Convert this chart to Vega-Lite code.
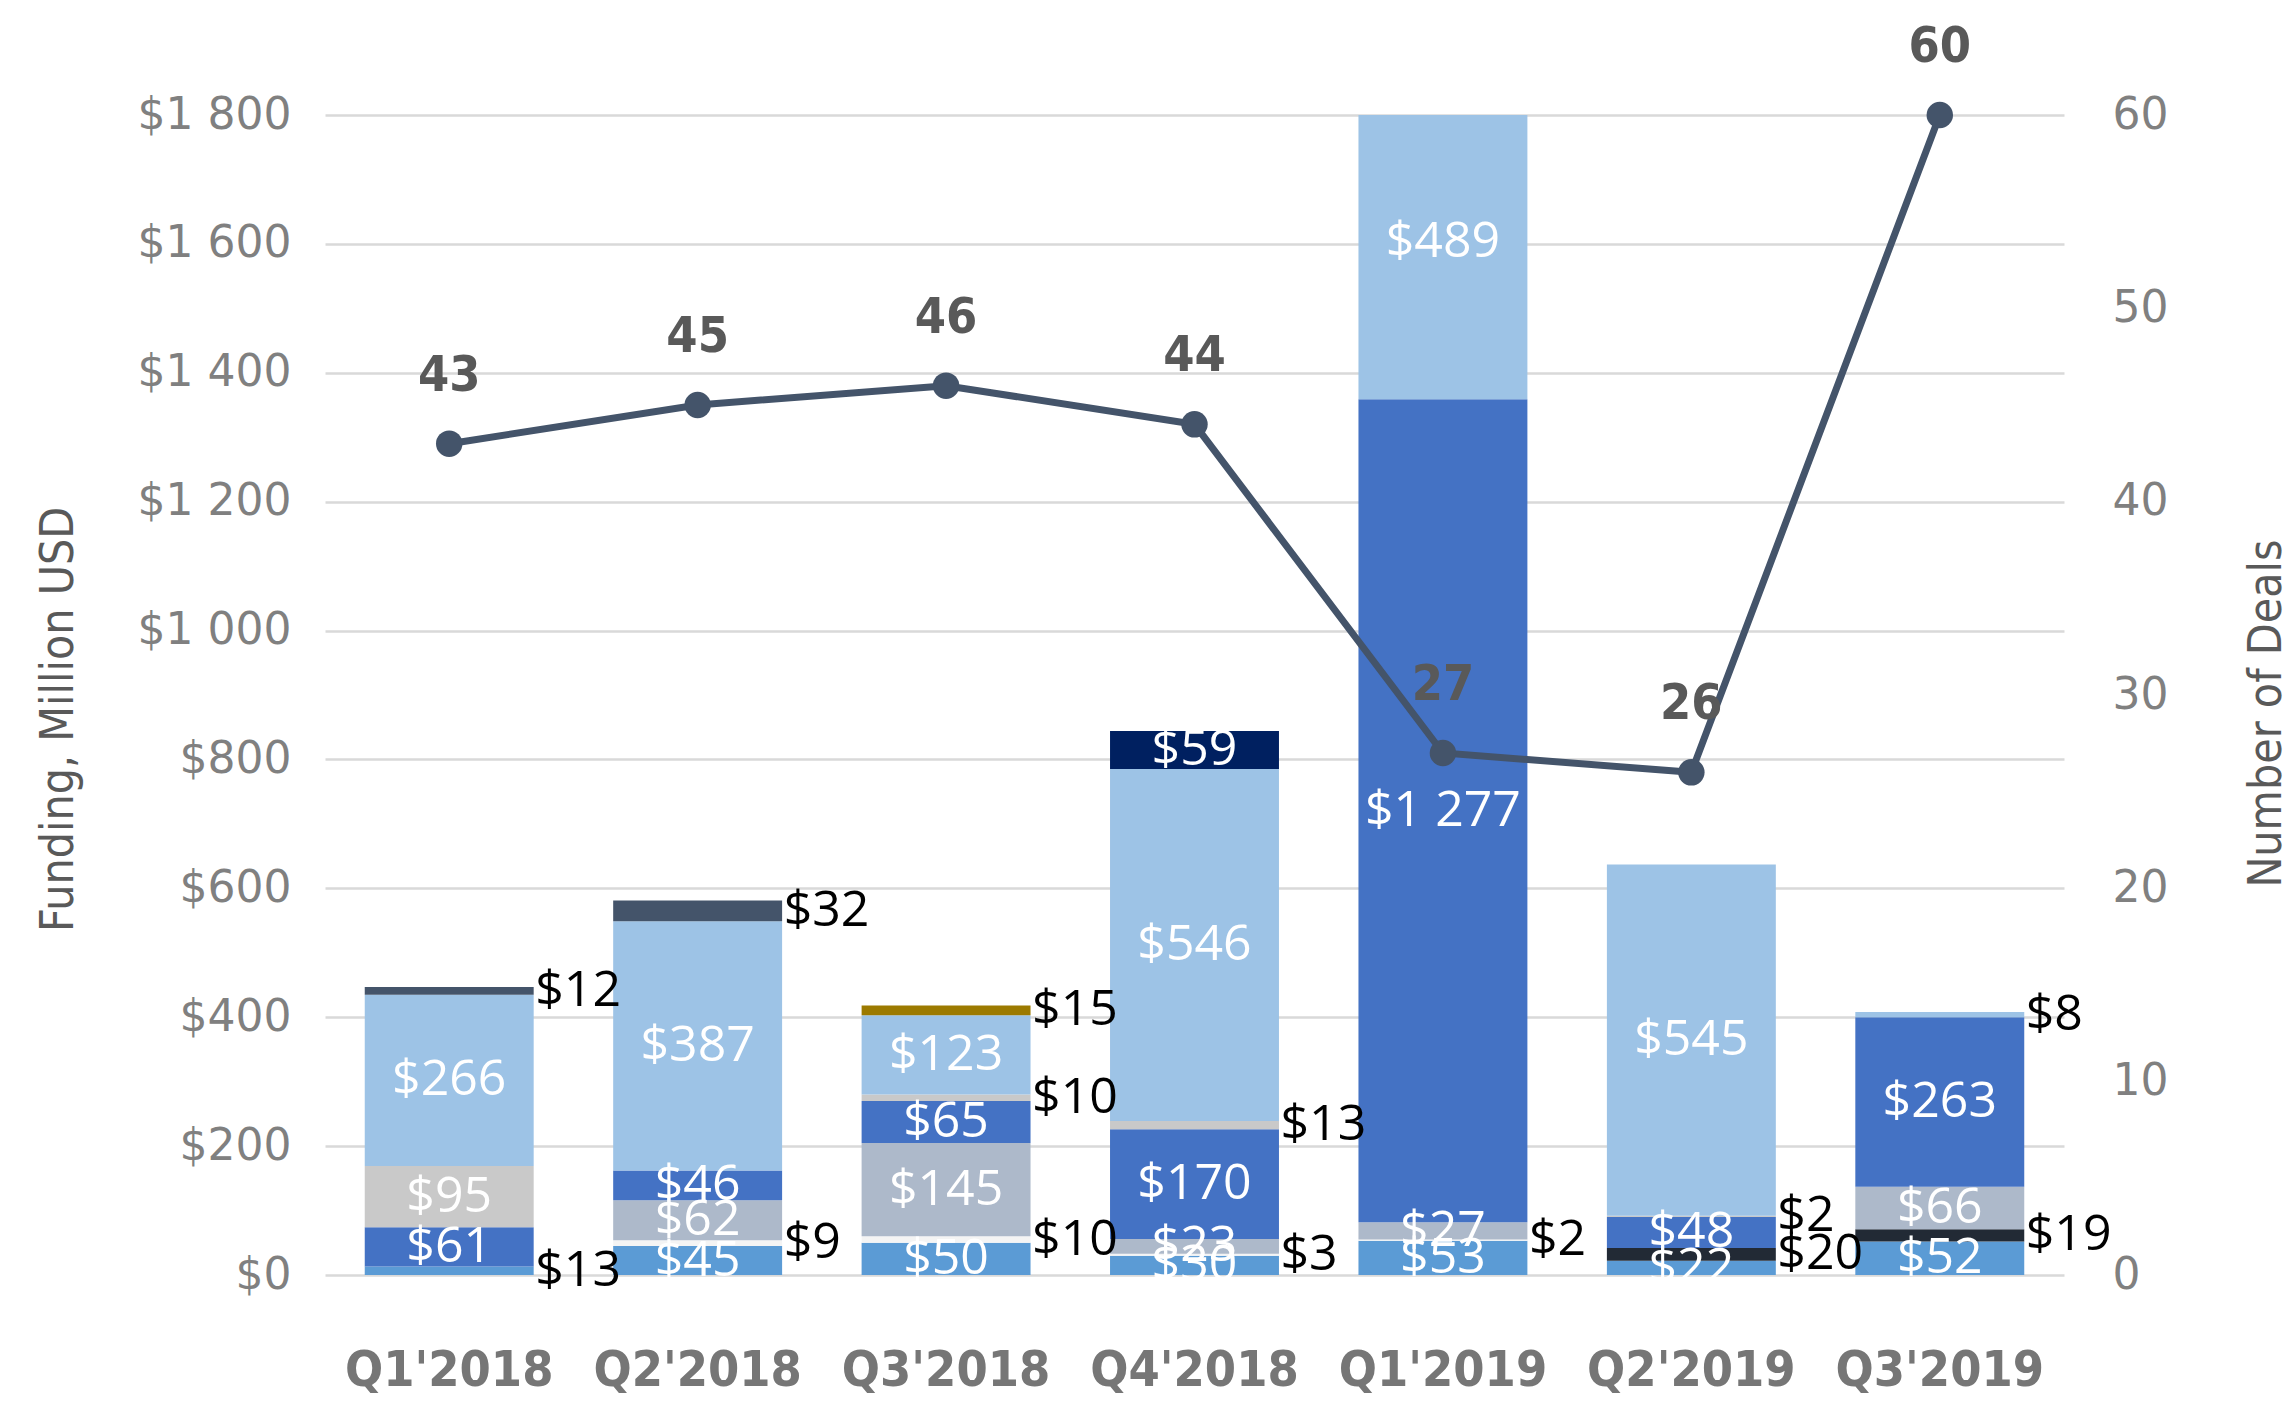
{
  "$schema": "https://vega.github.io/schema/vega-lite/v6.json",
  "autosize": {"type": "none"},
  "width": 1739,
  "height": 1160,
  "padding": {"left": 325, "top": 115, "right": 231, "bottom": 134},
  "background": "#ffffff",
  "config": {"view": {"stroke": null}},
  "datasets": {
    "funding": [
      {"quarter": "Q1'2018", "series": "A", "value": 13},
      {"quarter": "Q1'2018", "series": "E", "value": 61},
      {"quarter": "Q1'2018", "series": "F", "value": 95},
      {"quarter": "Q1'2018", "series": "G", "value": 266},
      {"quarter": "Q1'2018", "series": "H", "value": 12},
      {"quarter": "Q2'2018", "series": "A", "value": 45},
      {"quarter": "Q2'2018", "series": "C", "value": 9},
      {"quarter": "Q2'2018", "series": "D", "value": 62},
      {"quarter": "Q2'2018", "series": "E", "value": 46},
      {"quarter": "Q2'2018", "series": "G", "value": 387},
      {"quarter": "Q2'2018", "series": "H", "value": 32},
      {"quarter": "Q3'2018", "series": "A", "value": 50},
      {"quarter": "Q3'2018", "series": "C", "value": 10},
      {"quarter": "Q3'2018", "series": "D", "value": 145},
      {"quarter": "Q3'2018", "series": "E", "value": 65},
      {"quarter": "Q3'2018", "series": "F", "value": 10},
      {"quarter": "Q3'2018", "series": "G", "value": 123},
      {"quarter": "Q3'2018", "series": "I", "value": 15},
      {"quarter": "Q4'2018", "series": "A", "value": 30},
      {"quarter": "Q4'2018", "series": "C", "value": 3},
      {"quarter": "Q4'2018", "series": "D", "value": 23},
      {"quarter": "Q4'2018", "series": "E", "value": 170},
      {"quarter": "Q4'2018", "series": "F", "value": 13},
      {"quarter": "Q4'2018", "series": "G", "value": 546},
      {"quarter": "Q4'2018", "series": "J", "value": 59},
      {"quarter": "Q1'2019", "series": "A", "value": 53},
      {"quarter": "Q1'2019", "series": "C", "value": 2},
      {"quarter": "Q1'2019", "series": "D", "value": 27},
      {"quarter": "Q1'2019", "series": "E", "value": 1277},
      {"quarter": "Q1'2019", "series": "G", "value": 489},
      {"quarter": "Q2'2019", "series": "A", "value": 22},
      {"quarter": "Q2'2019", "series": "B", "value": 20},
      {"quarter": "Q2'2019", "series": "E", "value": 48},
      {"quarter": "Q2'2019", "series": "F", "value": 2},
      {"quarter": "Q2'2019", "series": "G", "value": 545},
      {"quarter": "Q3'2019", "series": "A", "value": 52},
      {"quarter": "Q3'2019", "series": "B", "value": 19},
      {"quarter": "Q3'2019", "series": "D", "value": 66},
      {"quarter": "Q3'2019", "series": "E", "value": 263},
      {"quarter": "Q3'2019", "series": "G", "value": 8}
    ],
    "deals": [
      {"quarter": "Q1'2018", "deals": 43},
      {"quarter": "Q2'2018", "deals": 45},
      {"quarter": "Q3'2018", "deals": 46},
      {"quarter": "Q4'2018", "deals": 44},
      {"quarter": "Q1'2019", "deals": 27},
      {"quarter": "Q2'2019", "deals": 26},
      {"quarter": "Q3'2019", "deals": 60}
    ]
  },
  "encoding": {
    "x": {
      "field": "quarter", "type": "nominal",
      "sort": ["Q1'2018", "Q2'2018", "Q3'2018", "Q4'2018", "Q1'2019", "Q2'2019", "Q3'2019"],
      "scale": {"paddingInner": 0.32, "paddingOuter": 0.16},
      "axis": {
        "title": null, "labelAngle": 0, "domain": false, "ticks": false, "labelLimit": 0,
        "labelFont": "Liberation Sans Narrow, DejaVu Sans Condensed, sans-serif", "labelFontWeight": "bold", "labelFontSize": 50,
        "labelColor": "#767676", "labelPadding": 70
      }
    }
  },
  "resolve": {"scale": {"y": "independent"}, "axis": {"y": "independent"}},
  "layer": [
    {
      "data": {"name": "funding"},
      "transform": [
        {"stack": "value", "groupby": ["quarter"], "sort": [{"field": "series", "order": "ascending"}], "as": ["v0", "v1"]},
        {"calculate": "(datum.v0 + datum.v1) / 2", "as": "mid"},
        {"calculate": "'$' + replace(format(datum.value, ','), ',', ' ')", "as": "label"}
      ],
      "layer": [
        {
          "mark": {"type": "bar", "clip": true},
          "encoding": {
            "y": {
              "field": "v0", "type": "quantitative",
              "scale": {"domain": [0, 1800], "nice": false, "zero": true},
              "axis": {
                "values": [0, 200, 400, 600, 800, 1000, 1200, 1400, 1600, 1800],
                "labelExpr": "'$' + replace(format(datum.value, ','), ',', ' ')",
                "labelFont": "DejaVu Sans", "labelFontSize": 44, "labelColor": "#808080",
                "labelPadding": 34, "domain": false, "ticks": false,
                "grid": true, "gridColor": "#D9D9D9", "gridWidth": 2.5,
                "title": "Funding, Million USD",
                "titleFont": "Liberation Sans Narrow, DejaVu Sans Condensed, sans-serif", "titleFontSize": 46, "titleFontWeight": "normal",
                "titleColor": "#595959", "titleAngle": -90, "titleX": -267, "titleY": 604,
                "titleAlign": "center", "titleBaseline": "middle"
              }
            },
            "y2": {"field": "v1"},
            "color": {
              "field": "series", "type": "nominal", "legend": null,
              "scale": {
                "domain": ["A", "B", "C", "D", "E", "F", "G", "H", "I", "J"],
                "range": ["#5B9BD5", "#222A35", "#F4F4F4", "#ADB9CA", "#4472C4", "#C9C9C9", "#9DC3E6", "#44546A", "#9C7A00", "#002060"]
              }
            }
          }
        },
        {
          "transform": [{"filter": "datum.value >= 21 && datum.series != 'H'"}],
          "mark": {"type": "text", "font": "Open Sans", "fontSize": 50, "color": "#FFFFFF", "baseline": "middle", "align": "center"},
          "encoding": {
            "y": {"field": "mid", "type": "quantitative"},
            "text": {"field": "label"}
          }
        },
        {
          "transform": [{"filter": "datum.value < 21 || datum.series == 'H'"}],
          "mark": {"type": "text", "font": "Open Sans", "fontSize": 50, "color": "#000000", "baseline": "middle", "align": "left", "dx": 86},
          "encoding": {
            "y": {"field": "mid", "type": "quantitative"},
            "text": {"field": "label"}
          }
        }
      ]
    },
    {
      "data": {"name": "deals"},
      "encoding": {
        "y": {
          "field": "deals", "type": "quantitative",
          "scale": {"domain": [0, 60], "nice": false},
          "axis": {
            "orient": "right",
            "values": [0, 10, 20, 30, 40, 50, 60],
            "labelFont": "DejaVu Sans", "labelFontSize": 44, "labelColor": "#808080",
            "labelPadding": 48, "domain": false, "ticks": false, "grid": false,
            "title": "Number of Deals",
            "titleFont": "Liberation Sans Narrow, DejaVu Sans Condensed, sans-serif", "titleFontSize": 46, "titleFontWeight": "normal",
            "titleColor": "#595959", "titleAngle": -90, "titleX": 202, "titleY": 598,
            "titleAlign": "center", "titleBaseline": "middle"
          }
        }
      },
      "layer": [
        {
          "mark": {"type": "line", "color": "#44546A", "strokeWidth": 7}
        },
        {
          "mark": {"type": "point", "filled": true, "opacity": 1, "color": "#44546A", "size": 700, "shape": "circle"}
        },
        {
          "mark": {"type": "text", "font": "Liberation Sans Narrow, DejaVu Sans Condensed, sans-serif", "fontWeight": "bold", "fontSize": 50, "color": "#595959", "baseline": "middle", "align": "center", "dy": -68},
          "encoding": {
            "text": {"field": "deals"}
          }
        }
      ]
    }
  ]
}
